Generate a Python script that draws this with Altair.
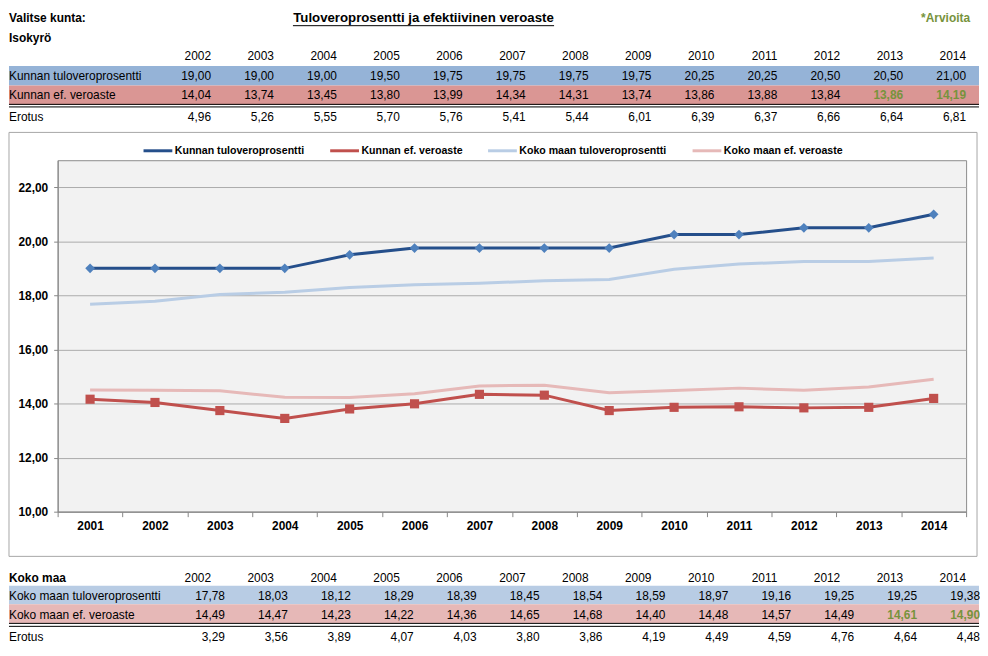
import altair as alt
import pandas as pd

FONT = "Liberation Sans"
GREEN = "#77933C"

# ---------------- data ----------------
years_table = [2002, 2003, 2004, 2005, 2006, 2007, 2008, 2009, 2010, 2011, 2012, 2013, 2014]
years_chart = [2001, 2002, 2003, 2004, 2005, 2006, 2007, 2008, 2009, 2010, 2011, 2012, 2013, 2014]
estimate_years = [2013, 2014]

kunta_tulovero = [19.00, 19.00, 19.00, 19.50, 19.75, 19.75, 19.75, 19.75, 20.25, 20.25, 20.50, 20.50, 21.00]
kunta_ef = [14.04, 13.74, 13.45, 13.80, 13.99, 14.34, 14.31, 13.74, 13.86, 13.88, 13.84, 13.86, 14.19]
kunta_erotus = [4.96, 5.26, 5.55, 5.70, 5.76, 5.41, 5.44, 6.01, 6.39, 6.37, 6.66, 6.64, 6.81]

maa_tulovero = [17.78, 18.03, 18.12, 18.29, 18.39, 18.45, 18.54, 18.59, 18.97, 19.16, 19.25, 19.25, 19.38]
maa_ef = [14.49, 14.47, 14.23, 14.22, 14.36, 14.65, 14.68, 14.40, 14.48, 14.57, 14.49, 14.61, 14.90]
maa_erotus = [3.29, 3.56, 3.89, 4.07, 4.03, 3.80, 3.86, 4.19, 4.49, 4.59, 4.76, 4.64, 4.48]

# 2001 values appear only in the chart (same order as series_names)
values_2001 = [19.00, 14.16, 17.67, 14.50]

series_names = ["Kunnan tuloveroprosentti", "Kunnan ef. veroaste",
                "Koko maan tuloveroprosentti", "Koko maan ef. veroaste"]
series_colors = ["#254F8B", "#C0504D", "#B9CDE5", "#E6B9B8"]

kunta_title = "Valitse kunta:"
kunta_name = "Isokyrö"
main_title = "Tuloveroprosentti ja efektiivinen veroaste"
estimate_note = "*Arvioita"
maa_title = "Koko maa"
top_labels = ["Kunnan tuloveroprosentti", "Kunnan ef. veroaste", "Erotus"]
bot_labels = ["Koko maan tuloveroprosentti", "Koko maan ef. veroaste", "Erotus"]


def fmt(v):
    return f"{v:.2f}".replace(".", ",")


def value_frame(rows):
    recs = []
    for row, vals, can_est in rows:
        for yr, v in zip(years_table, vals):
            recs.append(dict(year=yr, row=row + 0.5, txt=fmt(v),
                             est=bool(can_est and yr in estimate_years)))
    return pd.DataFrame(recs)


W = 915
TOP0 = 6                 # the top panel starts a little below the page top
TOP_H = 156 - TOP0
X_TABLE = alt.Scale(domain=[2002, 2014], range=[154.5, 915], nice=False, zero=False)


def txt(df, scale_y, fontsize=12, bold=False, color="black", align="right", dx=0, dy=0, x=None):
    mk = alt.Chart(df).mark_text(align=align, baseline="middle", font=FONT, fontSize=fontsize,
                                 fontWeight="bold" if bold else "normal", color=color, dx=dx, dy=dy)
    enc = dict(y=alt.Y("row:Q", scale=scale_y, axis=None), text="txt:N")
    if x is None:
        enc["x"] = alt.X("year:Q", scale=X_TABLE, axis=None)
    else:
        enc["x"] = alt.value(x)
    return mk.encode(**enc)


def band(df, scale_y, color):
    return alt.Chart(df).mark_rect(color=color).encode(
        x=alt.value(-49), x2=alt.value(928),
        y=alt.Y("y0:Q", scale=scale_y, axis=None), y2="y1:Q")


def rule(df, scale_y, off):
    return alt.Chart(df).mark_rule(color="black", strokeWidth=1, yOffset=off).encode(
        x=alt.value(-49), x2=alt.value(928),
        y=alt.Y("b:Q", scale=scale_y, axis=None))


# ---------------- top table ----------------
ys_top = alt.Scale(domain=[0, 6], range=[2 - TOP0, 120 - TOP0], nice=False, zero=False)
top_vals = value_frame([(3, kunta_tulovero, False), (4, kunta_ef, True)])
top_erot = value_frame([(5, kunta_erotus, False)])
top_years = pd.DataFrame(dict(year=years_table, row=2.5, txt=[str(y) for y in years_table]))
top_bold_lab = pd.DataFrame(dict(row=[0.5, 1.5], txt=[kunta_title, kunta_name]))
top_lab = pd.DataFrame(dict(row=[3.5, 4.5], txt=top_labels[:2]))
top_erot_lab = pd.DataFrame(dict(row=[5.5], txt=[top_labels[2]]))
title_df = pd.DataFrame(dict(row=[0.5], txt=[main_title]))
note_df = pd.DataFrame(dict(row=[0.5], txt=[estimate_note]))

top = alt.layer(
    band(pd.DataFrame(dict(y0=[3], y1=[4])), ys_top, "#95B3D7"),
    band(pd.DataFrame(dict(y0=[4], y1=[5])), ys_top, "#DA9694"),
    rule(pd.DataFrame(dict(b=[5])), ys_top, -0.6),
    rule(pd.DataFrame(dict(b=[5])), ys_top, 2),
    txt(top_years, ys_top),
    txt(top_vals[~top_vals.est], ys_top),
    txt(top_vals[top_vals.est], ys_top, bold=True, color=GREEN),
    txt(top_erot, ys_top, dy=2),
    txt(top_bold_lab, ys_top, bold=True, align="left", x=-49, dy=1),
    txt(top_lab, ys_top, align="left", x=-49),
    txt(top_erot_lab, ys_top, align="left", x=-49, dy=2),
    txt(title_df, ys_top, fontsize=13.33, bold=True, align="center", x=368.5, dy=1),
    alt.Chart(title_df).mark_rule(color="black", strokeWidth=1).encode(
        x=alt.value(237), x2=alt.value(500), y=alt.value(20.5 - TOP0)),
    txt(note_df, ys_top, bold=True, color=GREEN, x=919, dy=1),
).properties(width=W, height=TOP_H)

# ---------------- line chart ----------------
recs = []
for si, (name, tbl) in enumerate(zip(series_names, [kunta_tulovero, kunta_ef, maa_tulovero, maa_ef])):
    for yr, v in zip(years_chart, [values_2001[si]] + tbl):
        recs.append(dict(year=yr, series=name, value=v))
line_df = pd.DataFrame(recs)

x_axis = alt.Axis(title=None, labelAngle=0, labelFont=FONT, labelFontSize=12, labelFontWeight="bold",
                  labelColor="black", tickBand="extent", tickSize=5, tickColor="#868686",
                  domainColor="#868686", labelPadding=4, grid=False)
y_axis = alt.Axis(title=None, values=[10, 12, 14, 16, 18, 20, 22],
                  labelExpr="replace(format(datum.value, '.2f'), '.', ',')",
                  labelFont=FONT, labelFontSize=12, labelFontWeight="bold", labelColor="black",
                  tickSize=4, tickColor="#868686", domainColor="#868686", labelPadding=6,
                  grid=True, gridColor="#ABABAB")
x_enc = alt.X("year:O", scale=alt.Scale(type="band", paddingInner=0, paddingOuter=0), axis=x_axis)
y_enc = alt.Y("value:Q", scale=alt.Scale(domain=[10, 23], nice=False, zero=False), axis=y_axis)
# the legend is placed by the concat root, whose origin is the top table's origin
color_enc = alt.Color("series:N", scale=alt.Scale(domain=series_names, range=series_colors),
                      legend=alt.Legend(orient="none", legendX=85, legendY=TOP_H - 25.5,
                                        direction="horizontal",
                                        columns=4, title=None, symbolType="stroke", symbolStrokeWidth=3,
                                        symbolSize=841, labelFont=FONT, labelFontSize=10.67,
                                        labelFontWeight="bold", labelColor="black", labelOffset=1,
                                        columnPadding=19, padding=0))

frame = alt.Chart(pd.DataFrame(dict(a=[0]))).mark_rect(fillOpacity=0, stroke="#A6A6A6", strokeWidth=1).encode(
    x=alt.value(-49), x2=alt.value(926), y=alt.value(-28), y2=alt.value(399))

base = alt.Chart(line_df).encode(x=x_enc, y=y_enc, color=color_enc)
light = base.mark_line(strokeWidth=3).transform_filter(
    alt.FieldOneOfPredicate(field="series", oneOf=series_names[2:]))
dark = base.mark_line(strokeWidth=3).transform_filter(
    alt.FieldOneOfPredicate(field="series", oneOf=series_names[:2]))
diamonds = alt.Chart(line_df).mark_point(shape="diamond", filled=True, size=95, color="#4F81BD",
                                         opacity=1).encode(x=x_enc, y=y_enc).transform_filter(
    alt.datum.series == series_names[0])
squares = alt.Chart(line_df).mark_point(shape="square", filled=True, size=85, color="#C0504D",
                                        opacity=1).encode(x=x_enc, y=y_enc).transform_filter(
    alt.datum.series == series_names[1])

mid = alt.layer(frame, light, dark, diamonds, squares).properties(
    width=W, height=354, view=alt.ViewBackground(fill="#F2F2F2", stroke="#8C8C8C"))

# ---------------- bottom table ----------------
ys_bot = alt.Scale(domain=[0, 4], range=[55.75, 130.75], nice=False, zero=False)
bot_vals = value_frame([(1, maa_tulovero, False), (2, maa_ef, True)])
bot_erot = value_frame([(3, maa_erotus, False)])
bot_years = pd.DataFrame(dict(year=years_table, row=0.5, txt=[str(y) for y in years_table]))
bot_bold_lab = pd.DataFrame(dict(row=[0.5], txt=[maa_title]))
bot_lab = pd.DataFrame(dict(row=[1.5, 2.5], txt=bot_labels[:2]))
bot_erot_lab = pd.DataFrame(dict(row=[3.5], txt=[bot_labels[2]]))

bot = alt.layer(
    band(pd.DataFrame(dict(y0=[1], y1=[2])), ys_bot, "#B8CCE4"),
    band(pd.DataFrame(dict(y0=[2], y1=[3])), ys_bot, "#E6B8B7"),
    rule(pd.DataFrame(dict(b=[3])), ys_bot, 0.5),
    rule(pd.DataFrame(dict(b=[3])), ys_bot, 3.5),
    txt(bot_years, ys_bot, dy=1.5),
    txt(bot_vals[~bot_vals.est], ys_bot, dx=14, dy=1.5),
    txt(bot_vals[bot_vals.est], ys_bot, dx=14, dy=1.5, bold=True, color=GREEN),
    txt(bot_erot, ys_bot, dx=14, dy=5),
    txt(bot_bold_lab, ys_bot, bold=True, align="left", x=-49, dy=1.5),
    txt(bot_lab, ys_bot, align="left", x=-49, dy=1.5),
    txt(bot_erot_lab, ys_bot, align="left", x=-49, dy=5),
).properties(width=W, height=137)

chart = alt.vconcat(top, mid, bot, spacing=0, bounds="flush").properties(
    padding=0).configure(font=FONT).configure_view(stroke=None)

chart.save("out.html", embed_options={"renderer": "svg", "actions": False})
